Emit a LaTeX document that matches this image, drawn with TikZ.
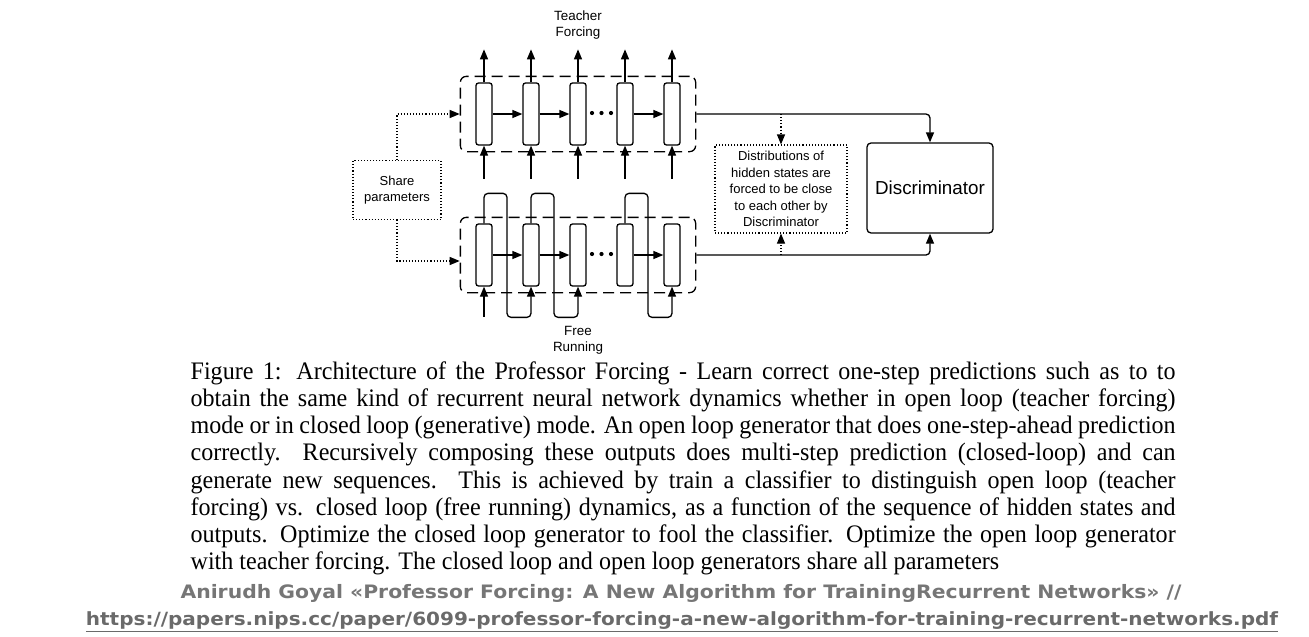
\documentclass[tikz,border=0pt]{standalone}
\usepackage{fontspec}
\setmainfont{Liberation Serif}
\setsansfont{Liberation Sans}
\newfontfamily\captionfont[FakeStretch=0.955]{Liberation Serif}
\newfontfamily\creditfont[FakeStretch=1.1]{DejaVu Sans}
\usetikzlibrary{positioning, fit, arrows.meta}
\definecolor{creditgray}{RGB}{118,118,118}

\begin{document}
\begin{tikzpicture}[x=1pt, y=-1pt, line width=1.3pt,
	>={Triangle[length=10pt, width=8pt]},
	cell/.style={draw, rounded corners=2.5pt, minimum width=16pt, minimum height=62pt, inner sep=0pt},
	group/.style={draw, dash pattern=on 11pt off 6pt, rounded corners=6pt, inner xsep=15pt, inner ysep=6pt},
	note/.style={draw, dotted, line width=1.1pt, align=center, inner sep=0pt, font=\sffamily\fontsize{13}{16.6}\selectfont},
	tag/.style={align=center, font=\sffamily\fontsize{13.4}{16}\selectfont}]
		\useasboundingbox (0,0) rectangle (1309,637);
		\def\loopW{23} % Width of a feedback loop
		\def\loopUp{30} % Rise of a feedback loop above a cell
		\def\loopDown{124} % Drop of a feedback loop
		
		% Place the cells of both networks
		\foreach \i/\x in {1/484, 2/531, 3/578, 4/625, 5/672} {
			\node[cell] (t\i) at (\x,114) {};
			\node[cell] (f\i) at (\x,255) {};
		}
		
		% Dashed frames round the networks
		\node[group, fit=(t1) (t5)] (teach) {};
		\node[group, fit=(f1) (f5)] (free) {};
		
		% Inputs and outputs of teacher forcing
		\foreach \i in {1, ..., 5} {
			\draw[->] (t\i.north) -- ++(0,-33);
			\draw[<-] (t\i.south) -- ++(0,33);
		}
		
		% Recurrent arrows and the dots
		\foreach \a/\b in {1/2, 2/3, 4/5} {
			\draw[->] (t\a) -- (t\b);
			\draw[->] (f\a) -- (f\b);
		}
		\foreach \x in {592, 601.5, 611} {
			\fill (\x,113) circle (2.1pt);
			\fill (\x,254) circle (2.1pt);
		}
		
		% Free running: first input and the feedback loops
		\draw[<-] (f1.south) -- ++(0,30);
		\foreach \a/\b in {1/2, 2/3, 4/5} {
			\draw[->, rounded corners=4pt] (f\a.north) |- ++(\loopW,-\loopUp) |- ++(24,\loopDown) -- (f\b.south);
		}
		
		% Labels of the two networks
		\node[tag] (tflabel) at (578,25) {Teacher\\Forcing};
		\node[tag] (frlabel) at (578,340) {Free\\Running};
		
		% Shared parameters
		\node[note, minimum width=88pt, minimum height=59pt] (share) at (397,190) {Share\\parameters};
		\draw[dotted, line width=1.1pt, ->] (share.north) |- (teach.west);
		\draw[dotted, line width=1.1pt, ->] (share.south) |- ([yshift=-6pt]free.west);
		
		% Discriminator and the note on the distributions
		\node[draw, rounded corners=4pt, minimum width=126pt, minimum height=90pt, font=\sffamily\fontsize{18.8}{22}\selectfont] (disc) at (930,188) {Discriminator};
		\node[note, minimum width=132pt, minimum height=88pt] (dist) at (781,189) {Distributions of\\hidden states are\\forced to be close\\to each other by\\Discriminator};
		\draw[->, rounded corners=4pt] (teach.east) -| (disc.north);
		\draw[->, rounded corners=4pt] (free.east) -| (disc.south);
		\draw[dotted, line width=1.1pt, ->] (dist.north |- teach.east) -- (dist.north);
		\draw[dotted, line width=1.1pt, ->] (dist.south |- free.east) -- (dist.south);
		
		% Caption
		\node[anchor=north west, inner sep=0pt, text width=985pt, align=justify, font=\captionfont\fontsize{25.2}{27.2}\selectfont] (caption) at (190,361) {Figure 1: Architecture of the Professor Forcing - Learn correct one-step predictions such as to to\linebreak
obtain the same kind of recurrent neural network dynamics whether in open loop (teacher forcing)\linebreak
mode or in closed loop (generative) mode. An open loop generator that does one-step-ahead prediction\linebreak
correctly. Recursively composing these outputs does multi-step prediction (closed-loop) and can\linebreak
generate new sequences. This is achieved by train a classifier to distinguish open loop (teacher\linebreak
forcing) vs. closed loop (free running) dynamics, as a function of the sequence of hidden states and\linebreak
outputs. Optimize the closed loop generator to fool the classifier. Optimize the open loop generator\linebreak
with teacher forcing. The closed loop and open loop generators share all parameters};
		
		% Source
		\node[text=creditgray, font=\creditfont\bfseries\fontsize{18.5}{20}\selectfont] (source) at (681,593) {Anirudh Goyal «Professor Forcing: A New Algorithm for TrainingRecurrent Networks» //};
		\node[text=creditgray!90!black, font=\creditfont\bfseries\fontsize{18.2}{20}\selectfont] (link) at (682,622) {\underline{https://papers.nips.cc/paper/6099-professor-forcing-a-new-algorithm-for-training-recurrent-networks.pdf}};
	\end{tikzpicture}
\end{document}
